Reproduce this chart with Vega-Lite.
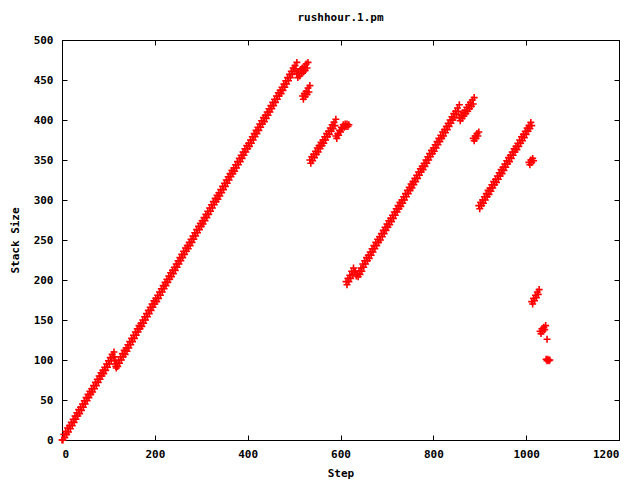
{
  "$schema": "https://vega.github.io/schema/vega-lite/v6.json",
  "autosize": {"type": "none"},
  "width": 557,
  "height": 400,
  "padding": {"left": 62, "top": 40, "right": 21, "bottom": 40},
  "background": "white",
  "title": {"text": "rushhour.1.pm", "font": "DejaVu Sans Mono", "fontSize": 11, "fontWeight": "bold", "color": "black", "offset": 11, "anchor": "middle"},
  "config": {
    "view": {"stroke": "black", "strokeWidth": 1},
    "axis": {"grid": false, "domainColor": "black", "tickColor": "black", "tickSize": -5, "labelFont": "DejaVu Sans Mono", "labelFontSize": 11, "labelFontWeight": "bold", "labelColor": "black", "titleFont": "DejaVu Sans Mono", "titleFontSize": 11, "titleFontWeight": "bold", "titleColor": "black"}
  },
  "layer": [
    {
      "data": {"values": [
        {"s":0,"v":0},{"s":2,"v":0},{"s":4,"v":7},{"s":6,"v":3},{"s":8,"v":11},{"s":10,"v":7},{"s":12,"v":15},{"s":14,"v":10},{"s":16,"v":18},{"s":18,"v":14},{"s":20,"v":22},{"s":22,"v":18},{"s":24,"v":26},{"s":26,"v":22},{"s":28,"v":30},{"s":30,"v":26},{"s":32,"v":34},{"s":34,"v":30},{"s":36,"v":38},{"s":38,"v":33},{"s":40,"v":41},{"s":42,"v":37},{"s":44,"v":45},{"s":46,"v":41},{"s":48,"v":49},{"s":50,"v":45},{"s":52,"v":53},{"s":54,"v":49},{"s":56,"v":57},{"s":58,"v":53},{"s":60,"v":61},{"s":62,"v":57},{"s":64,"v":64},{"s":66,"v":60},{"s":68,"v":68},{"s":70,"v":64},{"s":72,"v":72},{"s":74,"v":68},{"s":76,"v":76},{"s":78,"v":72},{"s":80,"v":80},{"s":82,"v":76},{"s":84,"v":84},{"s":86,"v":80},{"s":88,"v":87},{"s":90,"v":83},{"s":92,"v":91},{"s":94,"v":87},{"s":96,"v":95},{"s":98,"v":91},{"s":100,"v":99},{"s":102,"v":95},{"s":104,"v":103},{"s":106,"v":99},{"s":108,"v":107},{"s":110,"v":103},{"s":112,"v":110},
        {"s":113,"v":104},{"s":114,"v":99},{"s":115,"v":95},{"s":116,"v":92},{"s":117,"v":90},
        {"s":118,"v":96},{"s":120,"v":92},{"s":122,"v":100},{"s":124,"v":96},{"s":126,"v":104},{"s":128,"v":100},{"s":130,"v":108},{"s":132,"v":104},{"s":134,"v":112},{"s":136,"v":107},{"s":138,"v":115},{"s":140,"v":111},{"s":142,"v":119},{"s":144,"v":115},{"s":146,"v":123},{"s":148,"v":119},{"s":150,"v":127},{"s":152,"v":123},{"s":154,"v":131},{"s":156,"v":127},{"s":158,"v":135},{"s":160,"v":131},{"s":162,"v":139},{"s":164,"v":135},{"s":166,"v":143},{"s":168,"v":139},{"s":170,"v":146},{"s":172,"v":142},{"s":174,"v":150},{"s":176,"v":146},{"s":178,"v":154},{"s":180,"v":150},{"s":182,"v":158},{"s":184,"v":154},{"s":186,"v":162},{"s":188,"v":158},{"s":190,"v":166},{"s":192,"v":162},{"s":194,"v":170},{"s":196,"v":166},{"s":198,"v":174},{"s":200,"v":170},{"s":202,"v":177},{"s":204,"v":173},{"s":206,"v":181},{"s":208,"v":177},{"s":210,"v":185},{"s":212,"v":181},{"s":214,"v":189},{"s":216,"v":185},{"s":218,"v":193},{"s":220,"v":189},{"s":222,"v":197},{"s":224,"v":193},{"s":226,"v":201},{"s":228,"v":197},{"s":230,"v":205},{"s":232,"v":201},{"s":234,"v":209},{"s":236,"v":204},{"s":238,"v":212},{"s":240,"v":208},{"s":242,"v":216},{"s":244,"v":212},{"s":246,"v":220},{"s":248,"v":216},{"s":250,"v":224},{"s":252,"v":220},{"s":254,"v":228},{"s":256,"v":224},{"s":258,"v":232},{"s":260,"v":228},{"s":262,"v":236},{"s":264,"v":232},{"s":266,"v":240},{"s":268,"v":236},{"s":270,"v":243},{"s":272,"v":239},{"s":274,"v":247},{"s":276,"v":243},{"s":278,"v":251},{"s":280,"v":247},{"s":282,"v":255},{"s":284,"v":251},{"s":286,"v":259},{"s":288,"v":255},{"s":290,"v":263},{"s":292,"v":259},{"s":294,"v":267},{"s":296,"v":263},{"s":298,"v":271},{"s":300,"v":267},{"s":302,"v":274},{"s":304,"v":270},{"s":306,"v":278},{"s":308,"v":274},{"s":310,"v":282},{"s":312,"v":278},{"s":314,"v":286},{"s":316,"v":282},{"s":318,"v":290},{"s":320,"v":286},{"s":322,"v":294},{"s":324,"v":290},{"s":326,"v":298},{"s":328,"v":294},{"s":330,"v":302},{"s":332,"v":298},{"s":334,"v":306},{"s":336,"v":301},{"s":338,"v":309},{"s":340,"v":305},{"s":342,"v":313},{"s":344,"v":309},{"s":346,"v":317},{"s":348,"v":313},{"s":350,"v":321},{"s":352,"v":317},{"s":354,"v":325},{"s":356,"v":321},{"s":358,"v":329},{"s":360,"v":325},{"s":362,"v":333},{"s":364,"v":329},{"s":366,"v":337},{"s":368,"v":333},{"s":370,"v":340},{"s":372,"v":336},{"s":374,"v":344},{"s":376,"v":340},{"s":378,"v":348},{"s":380,"v":344},{"s":382,"v":352},{"s":384,"v":348},{"s":386,"v":356},{"s":388,"v":352},{"s":390,"v":360},{"s":392,"v":356},{"s":394,"v":364},{"s":396,"v":360},{"s":398,"v":368},{"s":400,"v":364},{"s":402,"v":371},{"s":404,"v":367},{"s":406,"v":375},{"s":408,"v":371},{"s":410,"v":379},{"s":412,"v":375},{"s":414,"v":383},{"s":416,"v":379},{"s":418,"v":387},{"s":420,"v":383},{"s":422,"v":391},{"s":424,"v":387},{"s":426,"v":395},{"s":428,"v":391},{"s":430,"v":399},{"s":432,"v":395},{"s":434,"v":403},{"s":436,"v":398},{"s":438,"v":406},{"s":440,"v":402},{"s":442,"v":410},{"s":444,"v":406},{"s":446,"v":414},{"s":448,"v":410},{"s":450,"v":418},{"s":452,"v":414},{"s":454,"v":422},{"s":456,"v":418},{"s":458,"v":426},{"s":460,"v":422},{"s":462,"v":430},{"s":464,"v":426},{"s":466,"v":434},{"s":468,"v":430},{"s":470,"v":437},{"s":472,"v":433},{"s":474,"v":441},{"s":476,"v":437},{"s":478,"v":445},{"s":480,"v":441},{"s":482,"v":449},{"s":484,"v":445},{"s":486,"v":453},{"s":488,"v":449},{"s":490,"v":457},{"s":492,"v":453},{"s":494,"v":461},{"s":496,"v":457},{"s":498,"v":465},{"s":500,"v":461},{"s":502,"v":468},{"s":504,"v":464},{"s":506,"v":472},
        {"s":506,"v":458},{"s":508,"v":453},{"s":510,"v":460},{"s":512,"v":455},{"s":514,"v":463},{"s":516,"v":458},{"s":518,"v":465},{"s":520,"v":460},{"s":522,"v":467},{"s":524,"v":462},{"s":526,"v":470},{"s":528,"v":465},{"s":530,"v":472},
        {"s":518,"v":430},{"s":520,"v":426},{"s":522,"v":433},{"s":524,"v":429},{"s":526,"v":436},{"s":528,"v":432},{"s":530,"v":440},{"s":532,"v":435},{"s":534,"v":443},
        {"s":534,"v":350},{"s":536,"v":346},{"s":538,"v":354},{"s":540,"v":349},{"s":542,"v":357},{"s":544,"v":353},{"s":546,"v":361},{"s":548,"v":357},{"s":550,"v":365},{"s":552,"v":360},{"s":554,"v":368},{"s":556,"v":364},{"s":558,"v":372},{"s":560,"v":368},{"s":562,"v":375},{"s":564,"v":371},{"s":566,"v":379},{"s":568,"v":375},{"s":570,"v":383},{"s":572,"v":379},{"s":574,"v":386},{"s":576,"v":382},{"s":578,"v":390},{"s":580,"v":386},{"s":582,"v":394},{"s":584,"v":389},{"s":586,"v":397},{"s":588,"v":393},{"s":590,"v":401},
        {"s":590,"v":380},{"s":592,"v":377},{"s":594,"v":383},{"s":596,"v":381},{"s":598,"v":387},{"s":600,"v":385},{"s":602,"v":391},{"s":604,"v":389},{"s":606,"v":394},{"s":608,"v":391},{"s":610,"v":395},{"s":612,"v":392},{"s":614,"v":395},{"s":616,"v":392},{"s":618,"v":394},
        {"s":612,"v":198},{"s":614,"v":194},{"s":616,"v":202},{"s":618,"v":198},{"s":620,"v":206},{"s":622,"v":202},{"s":624,"v":211},{"s":626,"v":207},{"s":628,"v":215},{"s":630,"v":210},{"s":632,"v":211},{"s":634,"v":205},{"s":636,"v":208},{"s":638,"v":204},{"s":640,"v":211},{"s":642,"v":207},{"s":644,"v":215},{"s":646,"v":211},
        {"s":648,"v":220},{"s":650,"v":216},{"s":652,"v":224},{"s":654,"v":220},{"s":656,"v":228},{"s":658,"v":224},{"s":660,"v":231},{"s":662,"v":227},{"s":664,"v":235},{"s":666,"v":231},{"s":668,"v":239},{"s":670,"v":235},{"s":672,"v":243},{"s":674,"v":239},{"s":676,"v":247},{"s":678,"v":243},{"s":680,"v":251},{"s":682,"v":247},{"s":684,"v":254},{"s":686,"v":250},{"s":688,"v":258},{"s":690,"v":254},{"s":692,"v":262},{"s":694,"v":258},{"s":696,"v":266},{"s":698,"v":262},{"s":700,"v":270},{"s":702,"v":266},{"s":704,"v":274},{"s":706,"v":269},{"s":708,"v":277},{"s":710,"v":273},{"s":712,"v":281},{"s":714,"v":277},{"s":716,"v":285},{"s":718,"v":281},{"s":720,"v":289},{"s":722,"v":285},{"s":724,"v":293},{"s":726,"v":289},{"s":728,"v":297},{"s":730,"v":292},{"s":732,"v":300},{"s":734,"v":296},{"s":736,"v":304},{"s":738,"v":300},{"s":740,"v":308},{"s":742,"v":304},{"s":744,"v":312},{"s":746,"v":308},{"s":748,"v":316},{"s":750,"v":312},{"s":752,"v":320},{"s":754,"v":315},{"s":756,"v":323},{"s":758,"v":319},{"s":760,"v":327},{"s":762,"v":323},{"s":764,"v":331},{"s":766,"v":327},{"s":768,"v":335},{"s":770,"v":331},{"s":772,"v":339},{"s":774,"v":335},{"s":776,"v":342},{"s":778,"v":338},{"s":780,"v":346},{"s":782,"v":342},{"s":784,"v":350},{"s":786,"v":346},{"s":788,"v":354},{"s":790,"v":350},{"s":792,"v":358},{"s":794,"v":354},{"s":796,"v":362},{"s":798,"v":358},{"s":800,"v":365},{"s":802,"v":361},{"s":804,"v":369},{"s":806,"v":365},{"s":808,"v":373},{"s":810,"v":369},{"s":812,"v":377},{"s":814,"v":373},{"s":816,"v":381},{"s":818,"v":377},{"s":820,"v":385},{"s":822,"v":380},{"s":824,"v":388},{"s":826,"v":384},{"s":828,"v":392},{"s":830,"v":388},{"s":832,"v":396},{"s":834,"v":392},{"s":836,"v":400},{"s":838,"v":396},{"s":840,"v":404},{"s":842,"v":400},{"s":844,"v":408},{"s":846,"v":403},{"s":848,"v":411},{"s":850,"v":407},{"s":852,"v":415},{"s":854,"v":411},{"s":856,"v":419},
        {"s":856,"v":403},{"s":858,"v":399},{"s":860,"v":406},{"s":862,"v":402},{"s":864,"v":409},{"s":866,"v":405},{"s":868,"v":412},{"s":870,"v":408},{"s":872,"v":416},{"s":874,"v":411},{"s":876,"v":419},{"s":878,"v":414},{"s":880,"v":422},{"s":882,"v":417},{"s":884,"v":425},{"s":886,"v":420},{"s":888,"v":428},
        {"s":886,"v":377},{"s":888,"v":374},{"s":890,"v":380},{"s":892,"v":377},{"s":894,"v":383},{"s":896,"v":380},{"s":898,"v":385},
        {"s":898,"v":293},{"s":900,"v":289},{"s":902,"v":297},{"s":904,"v":293},{"s":906,"v":300},{"s":908,"v":296},{"s":910,"v":304},{"s":912,"v":300},{"s":914,"v":308},{"s":916,"v":304},{"s":918,"v":312},{"s":920,"v":307},{"s":922,"v":315},{"s":924,"v":311},{"s":926,"v":319},{"s":928,"v":315},{"s":930,"v":323},{"s":932,"v":319},{"s":934,"v":326},{"s":936,"v":322},{"s":938,"v":330},{"s":940,"v":326},{"s":942,"v":334},{"s":944,"v":330},{"s":946,"v":338},{"s":948,"v":333},{"s":950,"v":341},{"s":952,"v":337},{"s":954,"v":345},{"s":956,"v":341},{"s":958,"v":349},{"s":960,"v":345},{"s":962,"v":353},{"s":964,"v":348},{"s":966,"v":356},{"s":968,"v":352},{"s":970,"v":360},{"s":972,"v":356},{"s":974,"v":364},{"s":976,"v":360},{"s":978,"v":367},{"s":980,"v":363},{"s":982,"v":371},{"s":984,"v":367},{"s":986,"v":375},{"s":988,"v":371},{"s":990,"v":379},{"s":992,"v":374},{"s":994,"v":382},{"s":996,"v":378},{"s":998,"v":386},{"s":1000,"v":382},{"s":1002,"v":390},{"s":1004,"v":386},{"s":1006,"v":393},{"s":1008,"v":389},{"s":1010,"v":397},{"s":1012,"v":393},
        {"s":1006,"v":347},{"s":1008,"v":344},{"s":1010,"v":350},{"s":1012,"v":347},{"s":1014,"v":352},{"s":1016,"v":349},
        {"s":1012,"v":173},{"s":1014,"v":170},{"s":1016,"v":177},{"s":1018,"v":174},{"s":1020,"v":181},{"s":1022,"v":178},{"s":1024,"v":185},{"s":1026,"v":182},{"s":1028,"v":188},
        {"s":1030,"v":136},{"s":1032,"v":133},{"s":1034,"v":139},{"s":1036,"v":136},{"s":1038,"v":141},{"s":1040,"v":138},{"s":1042,"v":143},
        {"s":1045,"v":126},
        {"s":1043,"v":101},{"s":1045,"v":99},{"s":1047,"v":101},{"s":1049,"v":99},{"s":1051,"v":100}
      ]},
      "mark": {"type": "point", "shape": "M-1,0H1M0,-1V1", "size": 49, "filled": false, "color": "#ff0000", "strokeWidth": 1.6, "opacity": 1},
      "encoding": {
        "x": {"field": "s", "type": "quantitative", "scale": {"domain": [0, 1200], "nice": false}, "axis": {"orient": "bottom", "title": "Step", "format": "d", "values": [0,200,400,600,800,1000,1200], "labelPadding": 13, "titlePadding": 8}},
        "y": {"field": "v", "type": "quantitative", "scale": {"domain": [0, 500], "nice": false}, "axis": {"orient": "left", "title": "Stack Size", "values": [0,50,100,150,200,250,300,350,400,450,500], "labelPadding": 14, "titlePadding": 13}}
      }
    },
    {
      "data": {"values": []},
      "mark": {"type": "point", "opacity": 0},
      "encoding": {
        "x": {"field": "s", "type": "quantitative", "axis": {"orient": "top", "title": null, "labels": false, "values": [0,200,400,600,800,1000,1200]}},
        "y": {"field": "v", "type": "quantitative", "axis": {"orient": "right", "title": null, "labels": false, "values": [0,50,100,150,200,250,300,350,400,450,500]}}
      }
    }
  ],
  "resolve": {"axis": {"x": "independent", "y": "independent"}}
}
